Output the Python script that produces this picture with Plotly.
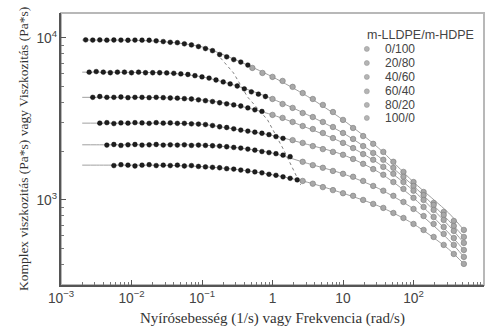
import plotly.graph_objects as go

# Blend ratios (m-LLDPE/m-HDPE), top curve first
blends = ["0/100", "20/80", "40/60", "60/40", "80/20", "100/0"]

# Steady shear: shear rate (1/s) and viscosity (Pa*s) per blend
rate_0_100 = [0.00224, 0.00282, 0.00355, 0.00447, 0.00562, 0.00708, 0.00891, 0.0112, 0.0141, 0.0178,
              0.0224, 0.0282, 0.0355, 0.0447, 0.0562, 0.0708, 0.0891, 0.112, 0.141, 0.178,
              0.224, 0.282, 0.355, 0.447]
eta_0_100 = [9730, 9700, 9720, 9690, 9710, 9700, 9680, 9700, 9690, 9680,
             9600, 9500, 9400, 9350, 9200, 9050, 8850, 8600, 8350, 7900,
             7650, 7350, 7100, 6800]

rate_20_80 = [0.00251, 0.00316, 0.00398, 0.00501, 0.00631, 0.00794, 0.01, 0.0126, 0.0158, 0.02,
              0.0251, 0.0316, 0.0398, 0.0501, 0.0631, 0.0794, 0.1, 0.126, 0.158, 0.2,
              0.251, 0.316, 0.398, 0.501, 0.631, 0.794]
eta_20_80 = [6150, 6200, 6150, 6100, 6150, 6150, 6100, 6150, 6100, 6100,
             6100, 6080, 6050, 6000, 5950, 5850, 5750, 5650, 5500, 5350,
             5200, 5050, 4850, 4650, 4500, 4350]

rate_40_60 = [0.00282, 0.00355, 0.00447, 0.00562, 0.00708, 0.00891, 0.0112, 0.0141, 0.0178, 0.0224,
              0.0282, 0.0355, 0.0447, 0.0562, 0.0708, 0.0891, 0.112, 0.141, 0.178, 0.224,
              0.282, 0.355, 0.447, 0.562, 0.708]
eta_40_60 = [4300, 4350, 4300, 4300, 4320, 4280, 4300, 4300, 4280, 4300,
             4280, 4260, 4250, 4220, 4200, 4150, 4100, 4050, 3980, 3920,
             3860, 3800, 3700, 3600, 3520]

rate_60_40 = [0.00355, 0.00447, 0.00562, 0.00708, 0.00891, 0.0112, 0.0141, 0.0178, 0.0224, 0.0282,
              0.0355, 0.0447, 0.0562, 0.0708, 0.0891, 0.112, 0.141, 0.178, 0.224, 0.282,
              0.355, 0.447, 0.562, 0.708, 0.891, 1.12, 1.41]
eta_60_40 = [2980, 3000, 2960, 2990, 2980, 3000, 2990, 2970, 3000, 2980,
             2990, 2970, 2970, 2950, 2940, 2920, 2880, 2830, 2800, 2750,
             2700, 2660, 2620, 2580, 2530, 2460, 2400]

rate_80_20 = [0.00447, 0.00562, 0.00708, 0.00891, 0.0112, 0.0141, 0.0178, 0.0224, 0.0282, 0.0355,
              0.0447, 0.0562, 0.0708, 0.0891, 0.112, 0.141, 0.178, 0.224, 0.282, 0.355,
              0.447, 0.562, 0.708, 0.891, 1.12, 1.41, 1.78]
eta_80_20 = [2180, 2200, 2170, 2190, 2200, 2180, 2190, 2200, 2180, 2190,
             2180, 2190, 2170, 2180, 2170, 2160, 2150, 2130, 2110, 2090,
             2060, 2030, 1990, 1960, 1930, 1890, 1850]

rate_100_0 = [0.00562, 0.00708, 0.00891, 0.0112, 0.0141, 0.0178, 0.0224, 0.0282, 0.0355, 0.0447,
              0.0562, 0.0708, 0.0891, 0.112, 0.141, 0.178, 0.224, 0.282, 0.355, 0.447,
              0.562, 0.708, 0.891, 1.12, 1.41, 1.78, 2.24]
eta_100_0 = [1630, 1650, 1640, 1620, 1640, 1650, 1630, 1640, 1630, 1640,
             1620, 1630, 1610, 1600, 1590, 1580, 1560, 1550, 1530, 1510,
             1490, 1470, 1440, 1420, 1390, 1360, 1330]

# Oscillatory sweep: angular frequency (rad/s); each complex-viscosity list ends at the last frequency
freq = [0.1, 0.139, 0.193, 0.268, 0.373, 0.518, 0.720, 1, 1.39, 1.93, 2.68, 3.73, 5.18, 7.20,
        10, 13.9, 19.3, 26.8, 37.3, 51.8, 72.0, 100, 139, 193, 268, 373, 518]
cplx_0_100 = [6530, 6080, 5750, 5430, 4990, 4570, 4200, 3860, 3490, 3120, 2780,
              2480, 2220, 1980, 1720, 1490, 1290, 1120, 958, 843, 742, 653]
cplx_20_80 = [4200, 3910, 3700, 3440, 3250, 3030, 2820, 2590, 2380, 2150,
              1950, 1770, 1580, 1390, 1220, 1070, 931, 808, 691, 591]
cplx_40_60 = [3350, 3210, 3030, 2860, 2740, 2590, 2410, 2250, 2090, 1920,
              1770, 1600, 1450, 1290, 1140, 1000, 868, 753, 644, 543]
cplx_60_40 = [2340, 2250, 2150, 2060, 1980, 1900, 1790, 1670, 1550,
              1430, 1290, 1170, 1030, 905, 785, 681, 582, 491]
cplx_80_20 = [1720, 1640, 1580, 1510, 1450, 1390, 1310, 1220, 1140,
              1060, 972, 880, 796, 711, 617, 528, 445]
cplx_100_0 = [1310, 1260, 1200, 1150, 1100, 1060, 1000, 945, 893,
              831, 774, 711, 653, 591, 528, 464, 403]

# Model fit curves
fit_x = [0.002, 0.00316, 0.01, 0.0316, 0.1, 0.316, 1, 3.16, 10, 31.6, 100, 316, 518]
fit_0_100 = [9700, 9700, 9680, 9450, 8800, 7250, 5750, 4350, 3120, 2100, 1290, 830, 653]
fit_20_80 = [6150, 6150, 6130, 6080, 5750, 5050, 4200, 3350, 2590, 1860, 1220, 745, 591]
fit_40_60 = [4300, 4300, 4300, 4270, 4140, 3830, 3350, 2780, 2250, 1685, 1140, 695, 543]
fit_60_40 = [2980, 2980, 2980, 2975, 2930, 2720, 2500, 2200, 1900, 1490, 1030, 625, 491]
fit_80_20 = [2190, 2190, 2190, 2190, 2180, 2100, 1945, 1680, 1450, 1180, 880, 567, 445]
fit_100_0 = [1640, 1640, 1640, 1635, 1605, 1540, 1430, 1285, 1100, 919, 711, 496, 403]

# Onset of shear thinning
onset_x = [0.183, 0.280, 0.443, 0.851, 1.44, 2.51]
onset_eta = [7530, 6080, 4320, 3120, 2040, 1240]

steady_rates = [rate_0_100, rate_20_80, rate_40_60, rate_60_40, rate_80_20, rate_100_0]
steady_etas = [eta_0_100, eta_20_80, eta_40_60, eta_60_40, eta_80_20, eta_100_0]
complex_etas = [cplx_0_100, cplx_20_80, cplx_40_60, cplx_60_40, cplx_80_20, cplx_100_0]
fit_etas = [fit_0_100, fit_20_80, fit_40_60, fit_60_40, fit_80_20, fit_100_0]

OSC_COLOR = "#a8a8a8"

fig = go.Figure()

for name, fy in zip(blends, fit_etas):
    fig.add_trace(go.Scatter(
        x=fit_x, y=fy, mode="lines", showlegend=False, hoverinfo="skip",
        line=dict(color="#a0a0a0", width=1, shape="spline", smoothing=0.8),
    ))

fig.add_trace(go.Scatter(
    x=onset_x, y=onset_eta, mode="lines", showlegend=False,
    line=dict(color="#808080", width=1, dash="dot"),
))

for name, cy in zip(blends, complex_etas):
    fig.add_trace(go.Scatter(
        x=freq[-len(cy):], y=cy, mode="markers", name=name, showlegend=False,
        marker=dict(symbol="circle", size=5.5, color=OSC_COLOR,
                    line=dict(color="#7a7a7a", width=0.6)),
    ))

for name, rx, ry in zip(blends, steady_rates, steady_etas):
    fig.add_trace(go.Scatter(
        x=rx, y=ry, mode="markers", name=name, showlegend=False,
        marker=dict(symbol="circle", size=4.8, color="#1e1e1e",
                    line=dict(color="#000000", width=0.4)),
    ))

axis_font = dict(family="Liberation Sans, Arial, sans-serif", size=11, color="#444")
title_font = dict(family="Liberation Serif, Times New Roman, serif", color="#333")

fig.update_xaxes(
    type="log", range=[-3, 3], dtick=1, exponentformat="power",
    showgrid=False, zeroline=False, automargin=False,
    showline=True, linecolor="#555", linewidth=1.5,
    ticks="inside", ticklen=5, tickcolor="#555", tickwidth=1,
    minor=dict(ticks="inside", ticklen=3, tickcolor="#777", showgrid=False),
    tickfont=axis_font,
    title=dict(text="Nyírósebesség (1/s) vagy Frekvencia (rad/s)",
               font=dict(size=15, **title_font), standoff=8),
)
fig.update_yaxes(
    type="log", range=[2.475, 4.154], dtick=1, exponentformat="power",
    showgrid=False, zeroline=False, automargin=False,
    showline=True, linecolor="#555", linewidth=1.5,
    ticks="inside", ticklen=5, tickcolor="#555", tickwidth=1,
    minor=dict(ticks="inside", ticklen=3, tickcolor="#777", showgrid=False),
    tickfont=axis_font,
    title=dict(text="Komplex viszkozitás (Pa*s) vagy Viszkozitás (Pa*s)",
               font=dict(size=13.5, **title_font), standoff=5),
)

# Light frame on the top and right sides
fig.add_shape(type="rect", xref="x domain", yref="y domain", x0=0, x1=1, y0=0, y1=1,
              line=dict(color="#b8b8b8", width=2), layer="below")

# Compact key for the blend ratios
legend_font = dict(family="Liberation Sans, Arial, sans-serif", color="#444")
fig.add_annotation(xref="paper", yref="paper", x=0.849, y=0.919, xanchor="center", yanchor="middle",
                   text="m-LLDPE/m-HDPE", showarrow=False, font=dict(size=12.5, **legend_font))
key_rows = [0.868, 0.816, 0.765, 0.712, 0.662, 0.614]
for name, ky in zip(blends, key_rows):
    fig.add_annotation(xref="paper", yref="paper", x=0.761, y=ky, xanchor="left", yanchor="middle",
                       text=name, showarrow=False, font=dict(size=12, **legend_font))
    fig.add_shape(type="circle", xref="paper", yref="paper", xsizemode="pixel", ysizemode="pixel",
                  xanchor=0.723, yanchor=ky, x0=-2.5, x1=2.5, y0=-2.5, y1=2.5,
                  fillcolor="#b4b4b4", line=dict(color="#9a9a9a", width=0.6))

fig.update_layout(
    template="none",
    width=489, height=332,
    margin=dict(l=61, r=5, t=13, b=47),
    paper_bgcolor="white", plot_bgcolor="white",
    showlegend=False,
)

fig.write_html("out.html")
